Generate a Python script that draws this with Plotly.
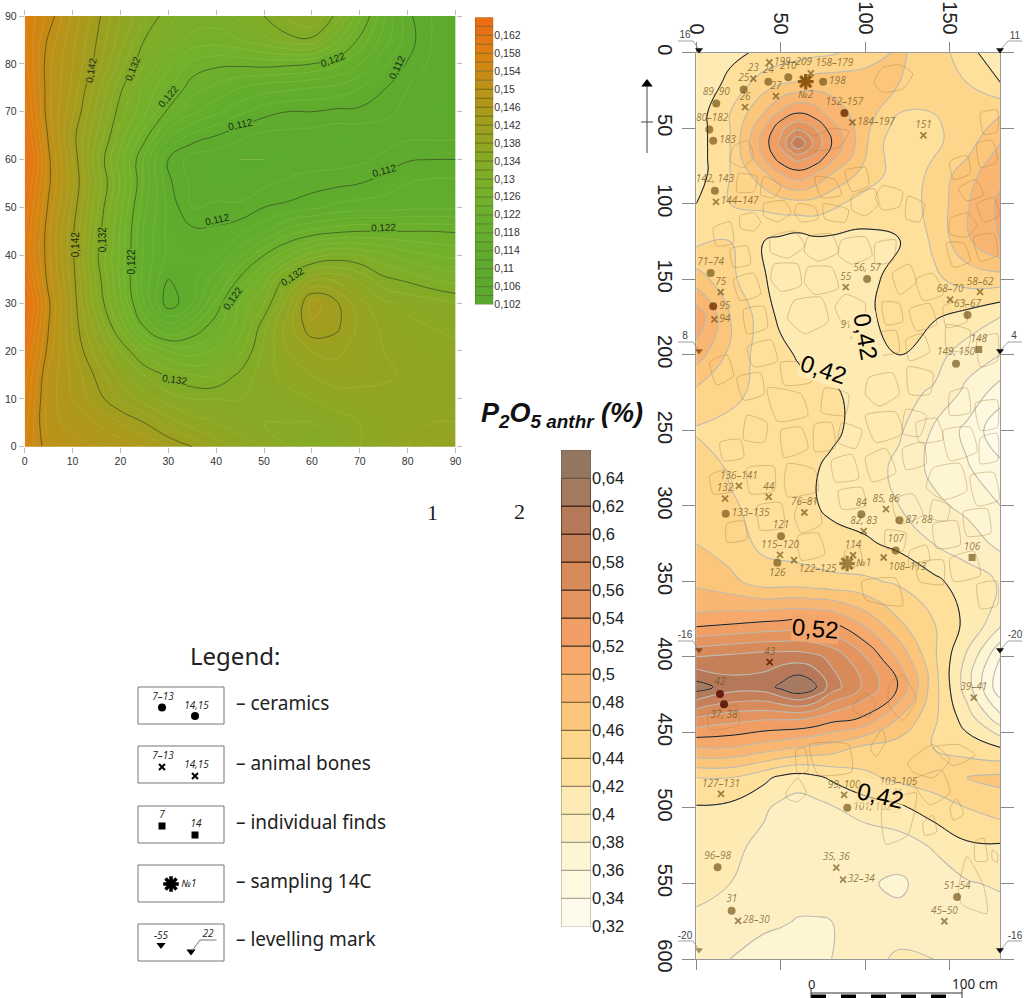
import plotly.graph_objects as go
import bisect

W, H = 1024, 998

# ---------- left map ----------
left_x = [0,5,10,15,20,25,30,35,40,45,50,55,60,65,70,75,80,85,90]
left_y = [0,5,10,15,20,25,30,35,40,45,50,55,60,65,70,75,80,85,90]
left_z = [
[.156,.1505,.149,.148,.147,.146,.144,.142,.139,.137,.136,.134,.133,.134,.136,.137,.138,.139,.139],
[.157,.149,.147,.146,.144,.142,.139,.137,.136,.135,.134,.134,.134,.135,.136,.137,.1375,.138,.138],
[.158,.149,.146,.143,.140,.137,.135,.134,.134,.134,.1345,.135,.136,.137,.137,.137,.137,.137,.137],
[.159,.1495,.1455,.1415,.137,.134,.1315,.130,.130,.1325,.135,.137,.138,.139,.139,.1385,.1375,.137,.137],
[.161,.151,.1445,.139,.134,.129,.126,.125,.1265,.1295,.1345,.138,.140,.1405,.139,.138,.137,.1365,.1365],
[.163,.152,.1438,.1368,.1295,.122,.117,.120,.1235,.127,.1335,.139,.1435,.1425,.1395,.1375,.1365,.136,.1355],
[.1645,.1525,.1435,.1345,.1265,.118,.1105,.114,.1205,.1265,.130,.137,.145,.1425,.1385,.1365,.1355,.135,.134],
[.162,.151,.143,.1335,.1255,.117,.112,.113,.117,.1225,.127,.1335,.1375,.1375,.1355,.1325,.1315,.130,.129],
[.160,.1505,.1425,.1325,.1255,.1175,.1135,.113,.1135,.1175,.122,.1255,.129,.1305,.130,.1285,.127,.126,.1255],
[.1605,.1505,.1425,.1335,.1258,.1175,.1135,.1125,.1125,.1135,.1155,.119,.1205,.1215,.122,.122,.122,.122,.1218],
[.1615,.1515,.1435,.1345,.1265,.1185,.1135,.110,.1105,.1105,.112,.1125,.1135,.1145,.115,.115,.1155,.1155,.1155],
[.163,.1525,.1445,.1355,.1278,.1195,.1125,.1095,.1085,.1085,.1095,.1105,.111,.1115,.112,.113,.114,.1145,.1145],
[.165,.1525,.144,.1345,.127,.1195,.112,.109,.1085,.108,.108,.1085,.109,.109,.1095,.1105,.1118,.112,.112],
[.163,.1515,.143,.136,.129,.123,.1165,.1135,.112,.1105,.1095,.1093,.109,.1085,.1085,.109,.1095,.1095,.1095],
[.161,.1505,.1445,.1375,.1308,.1265,.1215,.1185,.1165,.1145,.1128,.112,.112,.1115,.1115,.1105,.1095,.1085,.1085],
[.160,.1505,.1455,.139,.1325,.1275,.1245,.1208,.1195,.118,.117,.1165,.116,.1155,.114,.1122,.110,.109,.1085],
[.159,.1505,.146,.1412,.135,.130,.1265,.1235,.1225,.1225,.1228,.1225,.122,.1205,.118,.1145,.1118,.1095,.1085],
[.1585,.1515,.1465,.142,.137,.132,.1295,.1275,.127,.128,.1295,.1312,.1315,.1265,.1215,.117,.113,.110,.1085],
[.158,.1535,.1475,.1428,.138,.1345,.1305,.129,.129,.1305,.132,.1345,.136,.1315,.1245,.1185,.1125,.110,.1085],
]
left_ticks = [0,10,20,30,40,50,60,70,80,90]
left_lab_x = [13.8,22.6,30,64.4,77.8,45,75.2,40.2,75,10.5,16.4,22.4,43.4,56,31.2]
left_lab_y = [78.7,79,73.1,81,79.2,67.4,57.8,47.4,45.8,42.3,43.2,38.7,31,35.5,14]
left_lab_t = ["0,142","0,132","0,122","0,122","0,112","0,112","0,112","0,112","0,122","0,142","0,132","0,122","0,122","0,132","0,132"]
left_lab_a = [-80,-68,-50,-20,-65,-12,-15,-12,-2,-90,-90,-90,-55,-33,8]
left_lab_bg = ["#9aa024","#80aa28","#6cb02c","#66ae2c","#5dab2e","#5cab2e","#5cab2e","#5cab2e","#68ae2c","#9a9f20","#7caa28","#68ae2c","#68ae2c","#7cab28","#7cab28"]
cb1_stops = [.102,.110,.118,.126,.134,.142,.150,.158,.166]
cb1_colors = ["#5aa82f","#5daa2e","#64ae2c","#74b12b","#86aa26","#9f9f1f","#bb9218","#dd8011","#ef6a14"]
cb1_levels = [.102+.002*i for i in range(32)]
cb1_tickvals = [.102+.004*i for i in range(16)]
cb1_ticktext = ["0,102","0,106","0,11","0,114","0,118","0,122","0,126","0,13","0,134","0,138","0,142","0,146","0,15","0,154","0,158","0,162"]

# ---------- right map ----------
right_x = [0,20,40,50,60,70,80,100,120,140,160,180]
right_y = [0,20,40,50,60,70,80,100,125,150,175,200,225,250,275,300,325,350,375,400,420,440,460,480,500,525,550,575,600]
right_z = [
[.41,.415,.424,.428,.432,.435,.437,.45,.463,.45,.43,.40],
[.405,.425,.45,.458,.462,.47,.472,.47,.46,.45,.44,.42],
[.41,.44,.48,.505,.52,.51,.49,.47,.44,.44,.445,.458],
[.41,.44,.50,.535,.555,.54,.51,.465,.43,.438,.445,.47],
[.41,.44,.51,.545,.60,.555,.52,.463,.42,.435,.452,.48],
[.41,.44,.50,.53,.545,.535,.505,.46,.425,.44,.46,.49],
[.41,.44,.475,.50,.513,.50,.48,.453,.43,.443,.472,.495],
[.42,.44,.445,.45,.453,.452,.445,.43,.43,.445,.478,.505],
[.435,.44,.42,.415,.41,.415,.415,.415,.418,.443,.476,.503],
[.47,.445,.421,.415,.41,.41,.41,.412,.43,.436,.448,.45],
[.515,.46,.43,.415,.41,.405,.405,.415,.43,.422,.413,.40],
[.49,.455,.43,.426,.418,.412,.41,.41,.42,.408,.39,.38],
[.455,.447,.432,.43,.428,.425,.423,.412,.405,.398,.375,.35],
[.438,.432,.43,.43,.43,.428,.425,.41,.403,.378,.355,.325],
[.45,.438,.433,.432,.43,.422,.415,.41,.395,.375,.362,.345],
[.455,.442,.435,.432,.43,.421,.417,.41,.40,.385,.375,.36],
[.46,.45,.435,.432,.43,.428,.425,.423,.415,.40,.39,.375],
[.475,.465,.45,.45,.45,.447,.445,.443,.437,.425,.41,.398],
[.505,.51,.515,.517,.52,.518,.515,.49,.46,.44,.415,.39],
[.58,.585,.59,.59,.59,.585,.575,.54,.495,.445,.397,.34],
[.63,.61,.61,.625,.64,.625,.59,.555,.518,.45,.39,.325],
[.56,.55,.545,.545,.545,.54,.53,.518,.48,.445,.41,.365],
[.50,.50,.49,.485,.48,.475,.47,.455,.45,.44,.43,.42],
[.44,.44,.425,.415,.41,.415,.423,.435,.445,.45,.46,.465],
[.418,.415,.403,.395,.39,.393,.398,.41,.416,.43,.44,.45],
[.41,.405,.395,.39,.39,.39,.39,.385,.39,.402,.417,.418],
[.405,.40,.39,.389,.388,.387,.385,.382,.377,.388,.398,.403],
[.397,.39,.385,.382,.379,.379,.38,.385,.385,.39,.39,.39],
[.392,.38,.37,.37,.37,.375,.38,.39,.405,.40,.39,.39],
]
right_lab_x = [75.5,100,70.6,108.7]
right_lab_y = [210,188,381,492]
right_lab_t = ["0,42","0,42","0,52","0,42"]
right_lab_a = [18,80,5,13]
right_lab_bg = ["#feeab3","#feeab3","#f4a56b","rgba(254,228,170,0.6)"]
cb2_levels = [.32,.34,.36,.38,.40,.42,.44,.46,.48,.50,.52,.54,.56,.58,.60,.62,.64]
cb2_colors = ["#fefbec","#fef8df","#fef5d2","#feefc3","#feeab3","#fee09b","#fdd68b","#fbc67a","#f9b672",
              "#f6a96a","#f19e64","#e3945f","#d78a5a","#c57f59","#b57858","#a67a60","#957760"]
cb2_edges = ["#b0aa98","#b0aa98","#a8a290","#a09a80","#989070","#908060","#887040","#806838","#705830",
             "#605030","#503828","#503020","#483020","#402818","#402818","#402818","#706050"]
cb2_ticktext = ["0,32","0,34","0,36","0,38","0,4","0,42","0,44","0,46","0,48","0,5","0,52","0,54","0,56","0,58","0,6","0,62","0,64"]
right_xticks = [0,50,100,150]
right_yticks = [0,50,100,150,200,250,300,350,400,450,500,550,600]

# ---------- finds ----------
dark = "rgba(100,70,10,0.62)"
deep = "rgba(90,20,5,0.9)"
ceramics_x = [42.6,54.4,28,75,11.8,7.7,10,87.6,11,8.5,10,101,160.4,98.4,153.6,17.4,97.6,120.1,50.1,47.9,117.9,14,16.4,89.3,12.6,154.2,20.9]
ceramics_y = [19.2,16.3,24.3,19.2,33.6,50.8,58.3,40,91.4,145.9,167.8,149.9,173.7,196.2,205.9,305.3,305.5,309.5,320.1,337.7,329.6,424.5,431.3,499.8,539.2,559,568]
ceramics_t = ["24","210","25","198","89, 90","180–182","183","152–157","142, 143","71–74","95","56, 57","63–67","93","149, 150","133–135","84","87, 88","121","126","107","42","37, 38","101, 102","96–98","51–54","31"]
ceramics_p = ["top center","top center","top center","middle right","top center","top center","middle right","top center","top center","top center","middle right","top center","top center","middle right","top center","middle right","top center","middle right","top center","bottom center","top center","top center","bottom center","middle right","top center","top center","top center"]
ceramics_c = [dark]*7+["rgba(110,50,5,0.85)"]+[dark]*2+["rgba(110,50,5,0.8)"]+[dark]*10+[deep,deep]+[dark]*4

bones_x = [43.2,33.7,67.7,47.1,28.8,92.3,134.3,11.6,88.4,14.4,10.7,167.8,150.1,93.3,25.2,17,42.8,63.9,112.2,99,49.5,57.8,92.7,110.8,43.4,164.1,14.6,87.4,119.5,82.8,86.8,24.7,146.7]
bones_y = [6.4,17.2,13.7,28.7,36,46.1,54.7,98.7,155.2,158.5,176.6,158.3,163.4,187,286.8,295.2,294,304.4,302.2,316.8,332.4,336,332.7,334.2,403.5,426.9,490.7,491.4,489.4,539.5,547.5,574.8,575]
bones_t = ["199–209","23","158–179","27","26","184–197","151","144–147","55","75","94","58–62","68–70","91, 92","136–141","132","44","76–81","85, 86","82, 83","115–120","122–125","114","108–113","43","39–41","127–131","99, 100","103–105","35, 36","32–34","28–30","45–50"]
bones_p = ["middle right","top center","top right","top center","top center","middle right","top center","middle right","top center","top center","middle right","top center","top center","top center","top center","top center","top center","top center","top center","top center","top center","bottom right","top center","bottom right","top center","top center","top center","top center","top center","top center","middle right","middle right","top center"]
bones_c = [dark]*24+["rgba(90,30,5,0.85)"]+[dark]*8

single_x = [167,163.1]
single_y = [196.5,334.2]
single_t = ["148","106"]

sample_x = [64.7,89.2]
sample_y = [19.2,338.2]
sample_t = ["№2","№1"]
sample_p = ["bottom center","middle right"]
sample_c = ["rgba(130,75,5,0.9)","rgba(120,85,20,0.7)"]

# ---------- stones (outlines on the excavated surface, cm) ----------
stones = [
[(105,20),(110,10),(120,8),(128,14),(122,24),(110,26)],
[(60,50),(70,55),(80,50),(90,52),(85,62),(70,65),(60,60)],
[(26,108),(34,106),(38,112),(34,118),(26,116)],
[(40,100),(52,98),(56,106),(48,112),(40,108)],
[(60,100),(70,102),(72,110),(62,112),(58,106)],
[(75,100),(90,104),(88,112),(76,110)],
[(92,95),(105,90),(108,100),(100,108),(92,104)],
[(110,88),(122,92),(120,102),(110,104),(106,96)],
[(125,95),(135,100),(132,112),(124,110)],
[(44,122),(58,118),(64,128),(54,136),(44,132)],
[(66,122),(80,120),(84,132),(72,138),(64,132)],
[(86,124),(100,122),(104,134),(92,140),(84,134)],
[(106,126),(118,124),(116,138),(106,140)],
[(46,140),(60,140),(62,154),(50,158),(44,150)],
[(66,142),(80,142),(84,156),(70,160),(64,152)],
[(88,160),(100,166),(98,180),(86,178),(82,168)],
[(58,164),(74,162),(78,178),(64,186),(54,176)],
[(150,110),(160,106),(166,114),(160,122),(150,120)],
[(166,100),(176,96),(179,108),(170,112)],
[(148,126),(158,126),(162,138),(152,142)],
[(164,122),(176,120),(178,134),(168,138)],
[(155,90),(165,84),(170,94),(160,98)],
[(150,72),(160,68),(162,80),(152,84)],
[(166,60),(175,58),(178,72),(168,76)],
[(168,40),(178,38),(178,52),(170,54)],
[(102,215),(116,212),(120,226),(108,234),(100,226)],
[(125,208),(140,212),(138,226),(126,226)],
[(100,240),(118,238),(122,252),(106,258)],
[(124,236),(136,240),(132,254),(122,252)],
[(146,250),(162,248),(166,264),(150,270)],
[(140,275),(156,272),(160,290),(146,296),(136,288)],
[(162,280),(176,278),(179,296),(166,300)],
[(150,225),(160,222),(162,238),(150,240)],
[(165,232),(178,230),(178,248),(168,250)],
[(8,205),(18,200),(22,214),(12,220)],
[(24,215),(38,212),(40,226),(28,230)],
[(42,222),(62,226),(66,240),(48,244)],
[(30,240),(42,245),(40,258),(28,256)],
[(50,250),(62,248),(66,262),(52,268)],
[(70,246),(80,245),(82,262),(70,264)],
[(14,258),(26,256),(28,268),(16,270)],
[(54,272),(70,276),(72,290),(54,294),(52,284)],
[(30,275),(46,274),(46,290),(32,292)],
[(18,312),(28,310),(30,322),(18,324)],
[(62,296),(72,298),(74,312),(62,318),(58,306)],
[(84,290),(98,288),(100,300),(86,302)],
[(100,268),(112,262),(118,278),(104,284)],
[(116,296),(128,292),(134,306),(120,312)],
[(140,312),(154,310),(156,326),(142,328)],
[(112,316),(124,318),(122,330),(112,328)],
[(130,338),(146,336),(146,352),(132,350)],
[(98,350),(118,348),(122,366),(100,362)],
[(93,432),(100,424),(106,430),(102,440),(93,436)],
[(103,460),(110,448),(112,456),(106,466)],
[(67,458),(90,458),(92,476),(72,478)],
[(59,462),(64,460),(66,475),(60,478)],
[(114,418),(122,412),(130,428),(122,442),(114,432)],
[(125,470),(140,458),(150,468),(140,480),(128,476)],
[(128,482),(145,475),(150,490),(138,498)],
[(140,460),(155,458),(165,465),(152,472)],
[(110,498),(130,490),(125,518),(112,524)],
[(134,510),(140,505),(142,516),(135,518)],
[(150,500),(154,494),(158,504),(152,508)],
[(165,522),(170,520),(172,535),(165,535)],
[(175,528),(178,530),(178,536),(175,534)],
[(155,555),(160,532),(170,552),(172,570),(165,568),(157,564)],
[(53,490),(60,480),(65,490),(60,496),(54,494)],
[(7,438),(24,432),(25,445),(8,448)],
[(22,62),(30,58),(34,68),(28,76),(20,72)],
[(25,80),(36,82),(34,92),(24,92)],
[(40,82),(50,88),(46,96),(38,94)],
[(70,82),(82,84),(86,94),(74,96)],
[(88,78),(100,76),(102,88),(92,92)],
[(116,146),(126,140),(130,152),(120,160)],
[(130,150),(140,146),(146,160),(134,164)],
[(110,165),(120,166),(122,178),(112,180)],
[(126,170),(138,166),(142,180),(130,184)],
[(146,168),(158,164),(160,178),(148,182)],
[(106,186),(118,184),(120,198),(108,200)],
[(124,190),(134,186),(138,198),(126,204)],
[(20,130),(30,128),(32,140),(22,142)],
[(22,150),(34,146),(38,160),(26,164)],
[(28,170),(40,168),(42,182),(30,186)],
[(10,116),(20,112),(22,126),(12,128)],
[(30,195),(44,190),(48,204),(34,208)],
[(50,205),(66,206),(68,218),(52,220)],
[(76,222),(90,226),(88,240),(74,238)],
[(86,245),(98,250),(94,262),(84,258)],
[(80,270),(92,266),(96,282),(82,284)],
[(8,280),(18,276),(22,290),(10,292)],
[(36,300),(50,298),(52,314),(38,316)],
[(122,262),(134,258),(136,272),(124,276)],
[(168,255),(178,252),(178,270),(168,272)],
[(140,296),(150,300),(148,310),(138,308)],
[(158,304),(172,302),(174,318),(160,320)],
[(126,330),(136,326),(138,336),(126,340)],
[(150,335),(164,330),(168,346),(152,350)],
[(166,352),(178,350),(178,366),(168,368)],
[(60,320),(72,318),(76,332),(62,336)],
[(88,330),(96,326),(98,338),(88,342)],
[(148,180),(162,184),(160,198),(148,196)],
[(166,190),(178,186),(178,204),(168,208)],
[(130,245),(142,242),(146,256),(132,258)],
]
stone_x, stone_y = [], []
for s in stones:
    stone_x += [p[0] for p in s] + [s[0][0], None]
    stone_y += [p[1] for p in s] + [s[0][1], None]

# ---------- legend + page furniture (page pixels) ----------
box_top = [687,746,806,865,924]
box_h = 37
legend_labels = ["– ceramics","– animal bones","– individual finds","– sampling 14C","– levelling mark"]
legend_label_y = [705,765,824,883,941]
key_text = ["7–13","14,15","7–13","14,15","7","14","№1","-55","22"]
key_text_x = [163,196.5,163,196.5,162,196,189,161,208]
key_text_y = [697,706,756,765,815,824,884,936,934]
key_circle = ([162,195],[707.5,716])
key_cross = ([162,195],[767,776])
key_square = ([162,195],[826,835])
key_star = ([171],[884])
key_tri = ([161,191],[945,951.5])
key_leader = ([192,200,216.5],[951,940,940])

mark_x = [699,1000,699,1000,699,1000,699,1000]
mark_y = [50,50,351,351,650,650,950,950]
mark_c = ["#111","#111","#a0601c","#111","#8a4a2a","#111","#a89060","#111"]
mark_t = ["16","11","8","4","-16","-20","-20","-16"]
mark_tx = [685,1015,685,1014,685,1015,685,1015]
mark_ty = [35,36,336,336,635,635,936,936]
lead_x = [678,693,699,None,1000,1008,1022,None,678,693,699,None,1000,1008,1022,None,678,693,699,None,1000,1008,1022,None,678,693,699,None,1000,1008,1022]
lead_y = [41,41,50,None,50,41,41,None,342,342,351,None,351,342,342,None,641,641,650,None,650,641,641,None,941,941,950,None,950,941,941]

scale_black = [811,841,871,901,931]
scale_seg = 15

def dom_x(a, b): return [a/W, b/W]
def dom_y(top, bottom): return [1-bottom/H, 1-top/H]
def step_scale(colors):
    n = len(colors); out = []
    for i, c in enumerate(colors):
        out += [[i/n, c], [(i+1)/n, c]]
    return out

fig = go.Figure()

# left map
smooth1 = [[(v-cb1_stops[0])/(cb1_stops[-1]-cb1_stops[0]), c] for v, c in zip(cb1_stops, cb1_colors)]
fig.add_trace(go.Contour(x=left_x, y=left_y, z=left_z, colorscale=smooth1, zmin=.102, zmax=.166,
    autocontour=False, contours=dict(start=.102, end=.166, size=.002, coloring="heatmap"),
    line=dict(color="rgba(240,240,170,0.18)", width=0.7, smoothing=1.3),
    showscale=False, hoverinfo="skip", xaxis="x", yaxis="y"))
fig.add_trace(go.Contour(x=left_x, y=left_y, z=left_z, autocontour=False,
    contours=dict(start=.112, end=.152, size=.01, coloring="none", showlabels=False),
    line=dict(color="rgba(30,50,20,0.75)", width=0.8, smoothing=1.3),
    showscale=False, hoverinfo="skip", xaxis="x", yaxis="y"))

# left colour bar
def c1(v):
    i = min(bisect.bisect_right(cb1_stops, v)-1, len(cb1_stops)-2)
    t = (v-cb1_stops[i])/(cb1_stops[i+1]-cb1_stops[i])
    a = cb1_colors[i]; b = cb1_colors[i+1]
    return "#"+"".join("%02x" % round(int(a[k:k+2],16)*(1-t)+int(b[k:k+2],16)*t) for k in (1,3,5))
fig.add_trace(go.Bar(x=[0]*len(cb1_levels), y=[.002]*len(cb1_levels), base=cb1_levels, width=1,
    marker=dict(color=[c1(v+.001) for v in cb1_levels], line=dict(color="rgba(60,70,20,0.55)", width=0.7)),
    hoverinfo="skip", xaxis="x2", yaxis="y2", showlegend=False))

# right map
fig.add_trace(go.Contour(x=right_x, y=right_y, z=right_z, colorscale=step_scale(cb2_colors), zmin=.32, zmax=.66,
    autocontour=False, contours=dict(start=.32, end=.66, size=.02, coloring="fill"),
    line=dict(color="#bdbab0", width=1.1, smoothing=1.3), showscale=False, hoverinfo="skip", xaxis="x3", yaxis="y3"))
fig.add_trace(go.Scatter(x=stone_x, y=stone_y, mode="lines", line=dict(color="rgba(165,130,70,0.4)", width=1, shape="spline", smoothing=0.5),
    hoverinfo="skip", showlegend=False, xaxis="x3", yaxis="y3"))
fig.add_trace(go.Contour(x=right_x, y=right_y, z=right_z, autocontour=False,
    contours=dict(start=.42, end=.62, size=.10, coloring="none", showlabels=False),
    line=dict(color="#1a1a1a", width=1, smoothing=1.3), showscale=False, hoverinfo="skip", xaxis="x3", yaxis="y3"))

label_font = dict(size=10, family="Open Sans", color="rgba(110,85,30,0.75)", style="italic")
fig.add_trace(go.Scatter(x=ceramics_x, y=ceramics_y, text=ceramics_t, mode="markers+text", textposition=ceramics_p,
    textfont=label_font, marker=dict(symbol="circle", size=8, color=ceramics_c), hoverinfo="skip", showlegend=False, xaxis="x3", yaxis="y3"))
fig.add_trace(go.Scatter(x=bones_x, y=bones_y, text=bones_t, mode="markers+text", textposition=bones_p,
    textfont=label_font, marker=dict(symbol="x-thin", size=6, line=dict(color=bones_c, width=1.8)), hoverinfo="skip", showlegend=False, xaxis="x3", yaxis="y3"))
fig.add_trace(go.Scatter(x=single_x, y=single_y, text=single_t, mode="markers+text", textposition="top center",
    textfont=label_font, marker=dict(symbol="square", size=7, color=dark), hoverinfo="skip", showlegend=False, xaxis="x3", yaxis="y3"))
fig.add_trace(go.Scatter(x=sample_x, y=sample_y, text=sample_t, mode="markers+text", textposition=sample_p,
    textfont=label_font, marker=dict(symbol="asterisk", size=13, line=dict(color=sample_c, width=3.2)), hoverinfo="skip", showlegend=False, xaxis="x3", yaxis="y3"))

# right colour bar
fig.add_trace(go.Bar(x=[0]*len(cb2_levels), y=[.02]*len(cb2_levels), base=cb2_levels, width=1,
    marker=dict(color=cb2_colors, line=dict(color=cb2_edges, width=1.2)),
    hoverinfo="skip", xaxis="x4", yaxis="y4", showlegend=False))

# page overlay traces
cv = dict(xaxis="x5", yaxis="y5", hoverinfo="skip", showlegend=False)
k_font = dict(size=10, family="Open Sans", color="#222", style="italic")
fig.add_trace(go.Scatter(x=key_circle[0], y=key_circle[1], mode="markers", marker=dict(symbol="circle", size=8, color="#000"), **cv))
fig.add_trace(go.Scatter(x=key_cross[0], y=key_cross[1], mode="markers", marker=dict(symbol="x-thin", size=6, line=dict(color="#000", width=2)), **cv))
fig.add_trace(go.Scatter(x=key_square[0], y=key_square[1], mode="markers", marker=dict(symbol="square", size=7, color="#000"), **cv))
fig.add_trace(go.Scatter(x=key_star[0], y=key_star[1], mode="markers", marker=dict(symbol="asterisk", size=13, line=dict(color="#000", width=3.5)), **cv))
fig.add_trace(go.Scatter(x=key_tri[0], y=key_tri[1], mode="markers", marker=dict(symbol="triangle-down", size=8, color="#000"), **cv))
fig.add_trace(go.Scatter(x=key_leader[0], y=key_leader[1], mode="lines", line=dict(color="#555", width=0.8), **cv))
fig.add_trace(go.Scatter(x=key_text_x, y=key_text_y, text=key_text, mode="text", textfont=k_font, **cv))
fig.add_trace(go.Scatter(x=[236]*5, y=legend_label_y, text=legend_labels, mode="text", textposition="middle right",
    textfont=dict(size=19, family="Noto Sans", color="#222"), **cv))
fig.add_trace(go.Scatter(x=lead_x, y=lead_y, mode="lines", line=dict(color="#888", width=0.8), **cv))
fig.add_trace(go.Scatter(x=mark_x, y=mark_y, mode="markers", marker=dict(symbol="triangle-down", size=7, color=mark_c), **cv))
fig.add_trace(go.Scatter(x=mark_tx, y=mark_ty, text=mark_t, mode="text", textfont=dict(size=10, family="Liberation Sans", color="#444"), **cv))
# north arrow
fig.add_trace(go.Scatter(x=[647,647,None,641,653], y=[85,153,None,122,122], mode="lines", line=dict(color="#444", width=1), **cv))
fig.add_trace(go.Scatter(x=[647], y=[84], mode="markers", marker=dict(symbol="triangle-up", size=10, color="#000"), **cv))

shapes = []
for t in box_top:
    shapes.append(dict(type="rect", xref="x5", yref="y5", x0=138, x1=224, y0=t, y1=t+box_h,
                       line=dict(color="#777", width=1), fillcolor="rgba(0,0,0,0)"))
for s in scale_black:
    shapes.append(dict(type="rect", xref="x5", yref="y5", x0=s, x1=s+scale_seg, y0=994.5, y1=998,
                       line=dict(width=0), fillcolor="#000"))
shapes.append(dict(type="line", xref="x5", yref="y5", x0=811, x1=962, y0=993, y1=993, line=dict(color="#333", width=1)))
shapes.append(dict(type="line", xref="x5", yref="y5", x0=811, x1=811, y0=989, y1=998, line=dict(color="#333", width=1)))
shapes.append(dict(type="line", xref="x5", yref="y5", x0=962, x1=962, y0=989, y1=998, line=dict(color="#333", width=1)))

annots = [
 dict(text="Legend:", x=235, y=655, font=dict(size=24, family="Noto Sans", color="#222")),
 dict(text="1", x=432, y=512, font=dict(size=22, family="Liberation Serif", color="#222")),
 dict(text="2", x=519, y=511, font=dict(size=22, family="Liberation Serif", color="#222")),
 dict(text="<b><i>P<sub>2</sub>O<sub>5 anthr</sub> (%)</i></b>", x=562, y=415, font=dict(size=27, family="Liberation Sans", color="#111")),
 dict(text="0", x=811, y=984, font=dict(size=13, family="Noto Sans", color="#222")),
 dict(text="100 cm", x=975, y=984, font=dict(size=13.5, family="Noto Sans", color="#222")),
]
for a in annots:
    a.update(xref="x5", yref="y5", showarrow=False)
for x, y, t, ang, bg in zip(left_lab_x, left_lab_y, left_lab_t, left_lab_a, left_lab_bg):
    annots.append(dict(text=t, x=x, y=y, xref="x", yref="y", textangle=ang, showarrow=False, bgcolor=bg, borderpad=0,
                       font=dict(size=10, family="Liberation Sans", color="#1c2a12")))
for x, y, t, ang, bg in zip(right_lab_x, right_lab_y, right_lab_t, right_lab_a, right_lab_bg):
    annots.append(dict(text=t, x=x, y=y, xref="x3", yref="y3", textangle=ang, showarrow=False, bgcolor=bg, borderpad=0,
                       font=dict(size=24, family="Liberation Sans", color="#000")))

tick_small = dict(size=10.5, family="Liberation Sans", color="#333")
big = dict(size=20, family="Liberation Sans", color="#222")
fig.update_layout(
    template="none",
    width=W, height=H, margin=dict(l=0, r=0, t=0, b=0), paper_bgcolor="#fff", plot_bgcolor="rgba(0,0,0,0)",
    separators=", ", barmode="overlay", showlegend=False, shapes=shapes, annotations=annots,
    xaxis=dict(domain=dom_x(24.7,455.5), range=[0,90], tickvals=left_ticks, ticks="outside", ticklen=5, tickcolor="#bbb",
               mirror="ticks", showline=True, linecolor="rgba(0,0,0,0)", showgrid=False, zeroline=False, tickfont=tick_small, anchor="y", automargin=False),
    yaxis=dict(domain=dom_y(16,446.7), range=[0,90], tickvals=left_ticks, ticks="outside", ticklen=5, tickcolor="#bbb",
               mirror="ticks", showline=True, linecolor="rgba(0,0,0,0)", showgrid=False, zeroline=False, tickfont=tick_small, anchor="x", automargin=False),
    xaxis2=dict(domain=dom_x(475,493.3), range=[-.5,.5], visible=False, anchor="y2", automargin=False),
    yaxis2=dict(domain=dom_y(17.3,304.5), range=[.102,.166], side="right", tickvals=cb1_tickvals, ticktext=cb1_ticktext,
                ticks="", showgrid=False, zeroline=False, tickfont=tick_small, anchor="x2", automargin=False),
    xaxis3=dict(domain=dom_x(696.3,1000), range=[0,179.6], side="top", tickvals=right_xticks, tickangle=90, ticks="outside", ticklen=10,
                tickcolor="#888", mirror="ticks", showline=True, linecolor="#999", showgrid=False, zeroline=False, tickfont=big, anchor="y3", automargin=False),
    yaxis3=dict(domain=dom_y(52.7,959), range=[600,0], tickvals=right_yticks, tickangle=90, ticks="outside", ticklen=13,
                tickcolor="#888", mirror="ticks", showline=True, linecolor="#999", showgrid=False, zeroline=False, tickfont=big, anchor="x3", automargin=False),
    xaxis4=dict(domain=dom_x(561,591), range=[-.5,.5], visible=False, anchor="y4", automargin=False),
    yaxis4=dict(domain=dom_y(450,926.5), range=[.32,.66], side="right", tickvals=cb2_levels, ticktext=cb2_ticktext,
                ticks="", showgrid=False, zeroline=False, tickfont=dict(size=16.5, family="Liberation Sans", color="#222"), anchor="x4", automargin=False),
    xaxis5=dict(domain=[0,1], range=[0,W], visible=False, anchor="y5", fixedrange=True, automargin=False),
    yaxis5=dict(domain=[0,1], range=[H,0], visible=False, anchor="x5", fixedrange=True, automargin=False),
)
fig.write_html("out.html", config=dict(displayModeBar=False),
               post_script="document.body.style.margin='0';document.body.style.overflow='hidden';")
